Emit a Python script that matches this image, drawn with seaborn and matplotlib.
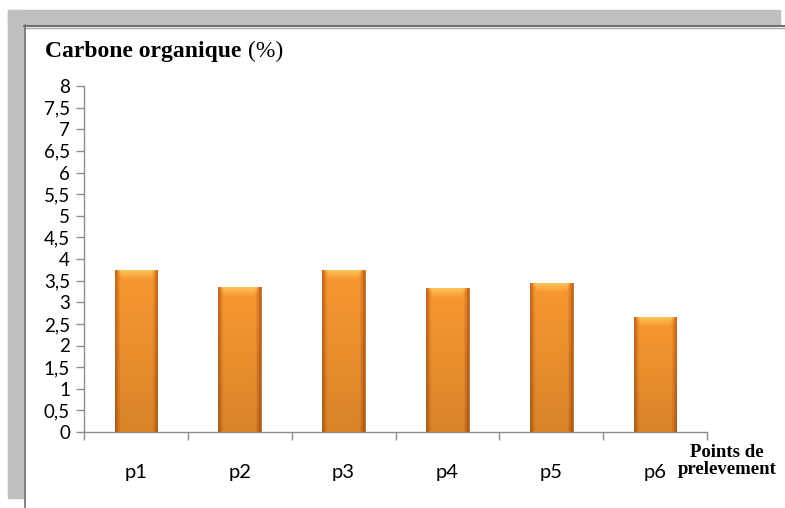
import numpy as np
import pandas as pd
import seaborn as sns
import matplotlib.pyplot as plt
from matplotlib.patches import Rectangle
from matplotlib.lines import Line2D
from matplotlib.ticker import MultipleLocator, FuncFormatter

points = ['p1', 'p2', 'p3', 'p4', 'p5', 'p6']
carbone = [3.75, 3.36, 3.75, 3.33, 3.45, 2.67]

df = pd.DataFrame({'point': points, 'carbone': carbone})

sns.set_theme(style='white')
plt.rcParams['font.family'] = ['Lato', 'DejaVu Sans']
plt.rcParams['text.color'] = 'black'

fig = plt.figure(figsize=(7.85, 5.08), dpi=100)
W, H = 785, 508

# grey frame (shadow) at top and left, with double rule
fig.patches.append(Rectangle((8 / W, 1 - 25 / H), (780 - 8) / W, 15 / H,
                             transform=fig.transFigure, color='#bfbfbf', zorder=0))
fig.patches.append(Rectangle((8 / W, 1 - 498 / H), 16 / W, (498 - 10) / H,
                             transform=fig.transFigure, color='#bfbfbf', zorder=0))
fig.lines.append(Line2D([24 / W, 1], [1 - 25.5 / H] * 2, transform=fig.transFigure,
                        color='#707070', lw=1.5))
fig.lines.append(Line2D([24 / W, 1], [1 - 28 / H] * 2, transform=fig.transFigure,
                        color='#a8a8a8', lw=1))
fig.lines.append(Line2D([24.5 / W] * 2, [0, 1 - 25 / H], transform=fig.transFigure,
                        color='#707070', lw=1.2))

ax = fig.add_axes([84 / W, 1 - 432 / H, (707 - 84) / W, (432 - 86) / H])
sns.barplot(data=df, x='point', y='carbone', color='#f7952f', width=0.41,
            saturation=1, ax=ax, zorder=2)

ax.set_ylim(0, 8)
ax.set_xlim(-0.5, len(points) - 0.5)
ax.yaxis.set_major_locator(MultipleLocator(0.5))
ax.yaxis.set_major_formatter(FuncFormatter(lambda v, p: f'{v:g}'.replace('.', ',')))

for s in ['top', 'right']:
    ax.spines[s].set_visible(False)
for s in ['left', 'bottom']:
    ax.spines[s].set_color('#8c8c8c')
    ax.spines[s].set_linewidth(1)

ax.set_xlabel('')
ax.set_ylabel('')
ax.tick_params(axis='y', which='major', left=True, length=6, width=1, color='#8c8c8c',
               labelsize=13.5, pad=4, labelcolor='black')
ax.tick_params(axis='x', which='major', bottom=False, labelsize=14.5, pad=17,
               labelcolor='black')
ax.set_xticks(np.arange(-0.5, len(points)), minor=True)
ax.tick_params(axis='x', which='minor', bottom=True, length=6, width=1, color='#8c8c8c')
ax.grid(False)

# bevel / gradient look on the bars
px_per_unit = (432 - 86) / 8
base = np.array([249, 152, 48]) / 255
dark = np.array([196, 102, 30]) / 255
light = np.array([254, 208, 100]) / 255
for patch in ax.patches:
    x0 = patch.get_x()
    w = patch.get_width()
    h = patch.get_height()
    nrows = max(int(round(h * px_per_unit)), 2)
    ncols = 42
    u = np.linspace(0, 1, ncols)
    edge = np.clip(np.minimum(u, 1 - u) / 0.12, 0, 1)
    img = np.zeros((nrows, ncols, 3))
    for r in range(nrows):
        vert = 1 - 0.13 * r / nrows
        row = dark[None, :] + (base - dark)[None, :] * edge[:, None]
        row = row * vert
        if r < 10:
            t = 1 - r / 10
            inner = np.clip((np.minimum(u, 1 - u) - 0.1 * (1 - t)) / 0.12, 0, 1)
            row = row + (light - row) * (0.85 * t * inner)[:, None]
        img[r] = np.clip(row, 0, 1)
    im = ax.imshow(img, extent=(x0, x0 + w, 0, h), aspect='auto', zorder=3,
                   interpolation='bilinear')
    im.set_clip_path(patch)
    patch.set_edgecolor('#b86a28')
    patch.set_linewidth(0.6)

fig.text(45 / W, 1 - 57 / H, 'Carbone organique', fontsize=17, fontweight='bold',
         family='Liberation Serif', ha='left', va='baseline')
fig.text(248 / W, 1 - 57 / H, '(%)', fontsize=17, family='Liberation Serif',
         ha='left', va='baseline')
fig.text(727 / W, 1 - 461 / H, 'Points de\nprelevement', fontsize=13.5,
         fontweight='bold', family='Liberation Serif', ha='center', va='center',
         linespacing=1.05)

fig.savefig('out.png', dpi=100)
